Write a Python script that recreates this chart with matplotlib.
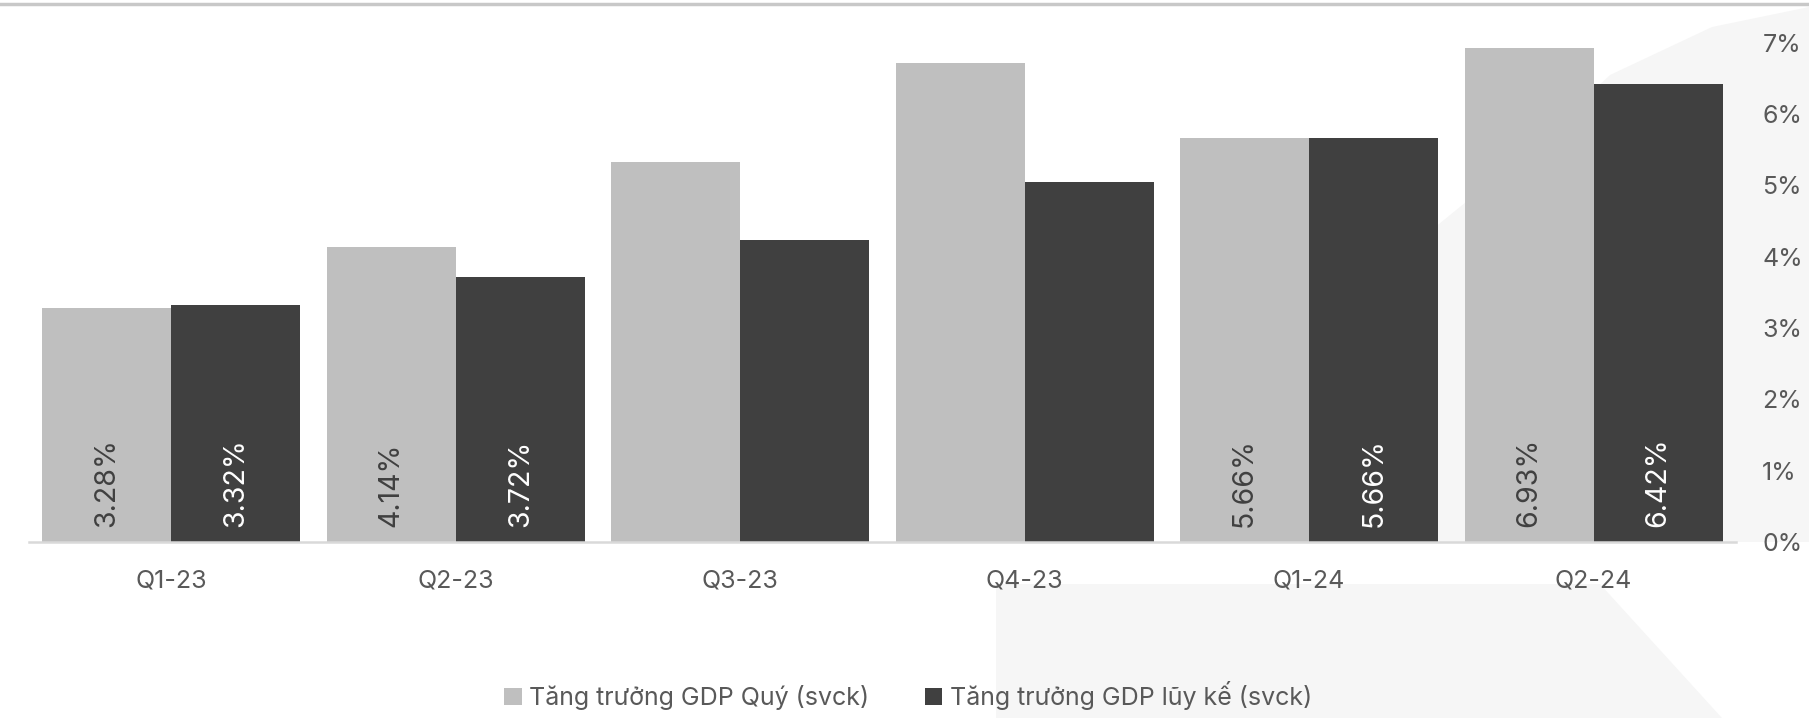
import numpy as np
import matplotlib
matplotlib.use("Agg")
import matplotlib.pyplot as plt
from matplotlib.lines import Line2D
from matplotlib.patches import Polygon

quarters = ["Q1-23", "Q2-23", "Q3-23", "Q4-23", "Q1-24", "Q2-24"]
gdp_quarter = [3.28, 4.14, 5.33, 6.72, 5.66, 6.93]
gdp_cumulative = [3.32, 3.72, 4.24, 5.05, 5.66, 6.42]
show_label = [True, True, False, False, True, True]
series_names = ["Tăng trưởng GDP Quý (svck)", "Tăng trưởng GDP lũy kế (svck)"]

light = "#bfbfbf"
dark = "#404040"
text_gray = "#595959"

plt.rcParams['font.family'] = ['Inter', 'DejaVu Sans']

fig = plt.figure(figsize=(18.09, 7.18), dpi=100)

# faint logo watermark in the background (pixel coords -> figure coords)
W, H = 1809, 718
def px(pts):
    return [(x / W, 1 - y / H) for x, y in pts]

arc = px([(1809, 7), (1712, 27), (1610, 75), (1530, 150), (1450, 215),
          (1400, 256), (1370, 340), (1352, 450), (1345, 542), (1809, 542)])
band = px([(996, 584), (1600, 584), (1722, 718), (996, 718)])
for shape in (arc, band):
    fig.add_artist(Polygon(shape, closed=True, transform=fig.transFigure,
                           facecolor="#f6f6f6", edgecolor="none", zorder=0))

# line across the top
fig.add_artist(Line2D([0, 1], [0.994, 0.994], transform=fig.transFigure,
                      color="#c8c8c8", lw=2.5))

ax = fig.add_axes([0.016, 0.245, 0.9436, 0.6954])
ax.patch.set_alpha(0)

x = np.arange(len(quarters))
w = 0.454
b1 = ax.bar(x - w / 2, gdp_quarter, w, color=light, label=series_names[0], zorder=2)
b2 = ax.bar(x + w / 2, gdp_cumulative, w, color=dark, label=series_names[1], zorder=2)

for i in range(len(quarters)):
    if not show_label[i]:
        continue
    ax.annotate(f"{gdp_quarter[i]:.2f}%", (x[i] - w / 2, 0), xytext=(0, 11),
                textcoords="offset points", rotation=90, ha="center", va="bottom",
                fontsize=20.5, color=dark, zorder=3)
    ax.annotate(f"{gdp_cumulative[i]:.2f}%", (x[i] + w / 2, 0), xytext=(0, 11),
                textcoords="offset points", rotation=90, ha="center", va="bottom",
                fontsize=20.5, color="white", zorder=3)

ax.set_xlim(-0.5, len(quarters) - 0.5)
ax.set_ylim(0, 7)
ax.set_xticks(x)
ax.set_xticklabels(quarters)
ax.set_yticks(range(8))
ax.set_yticklabels([f"{v}%" for v in range(8)])
ax.yaxis.tick_right()
ax.tick_params(axis="y", length=0, pad=19, labelsize=18, labelcolor=text_gray)
ax.tick_params(axis="x", length=0, pad=20, labelsize=18, labelcolor=text_gray)

for s in ["top", "left", "right"]:
    ax.spines[s].set_visible(False)
ax.spines["bottom"].set_color("#d9d9d9")
ax.spines["bottom"].set_linewidth(1.8)

fig.legend(handles=[b1, b2], labels=series_names, loc="center",
           bbox_to_anchor=(0.502, 0.031), ncol=2, frameon=False,
           fontsize=18, labelcolor=text_gray, handlelength=0.7, handleheight=0.7,
           handletextpad=0.3, columnspacing=2.2)

fig.savefig("out.png", dpi=100)
